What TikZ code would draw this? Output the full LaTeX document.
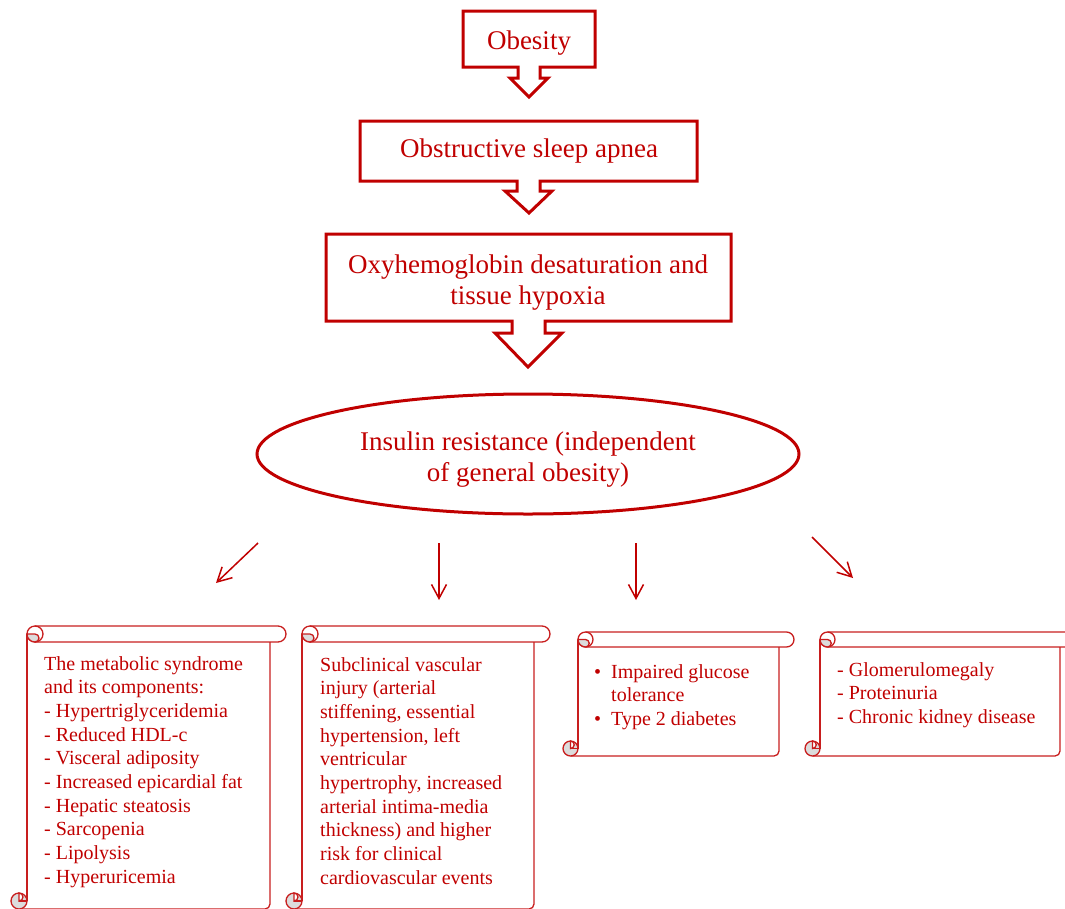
\documentclass[tikz,border=0pt]{standalone}
\usepackage{fontspec}
\setmainfont{Liberation Serif}
\usetikzlibrary{arrows.meta}
\definecolor{dred}{HTML}{C00000}
\definecolor{sred}{HTML}{C81E1E}
\definecolor{curlgray}{HTML}{DCDCDC}
\newcommand{\myscroll}[5]{% Lb Rb T B h
\pgfmathsetmacro{\hh}{#5/2}
\pgfmathsetmacro{\hq}{#5/4}
\draw[scrollline] (#1,#3+\hh) -- (#1,#4-\hh);
\draw[scrollline] (#2,#3+#5) -- (#2,#4-5) arc[start angle=0,end angle=90,radius=5] -- (#1-\hh,#4);
\draw[scrollline] (#1+\hh,#3) -- (#2+\hh,#3) arc[start angle=-90,end angle=90,radius=\hh] -- (#1+\hh,#3+#5);
\draw[scrollline] (#1+\hh,#3+\hh) circle[radius=\hh];
\draw[scrollline,fill=curlgray] (#1,#3+\hh) -- (#1+\hh,#3+\hh) arc[start angle=-90,end angle=90,radius=\hq] arc[start angle=90,end angle=180,radius=\hh] -- cycle;
\draw[scrollline,fill=curlgray] (#1-\hh,#4-\hh) circle[radius=\hh];
\draw[scrollline,fill=white] (#1-\hh,#4-\hh) arc[start angle=90,end angle=-90,radius=\hq] -- cycle;
\draw[scrollline] (#1-\hh,#4-\hh) -- (#1,#4-\hh);
}
\tikzset{
  boxline/.style={draw=dred,line width=3pt,line join=miter},
  scrollline/.style={draw=sred,line width=1.3pt},
  boxtext/.style={text=dred,font=\fontsize{27}{31}\selectfont,align=center,inner sep=0pt},
  scrolltext/.style={text=dred,font=\fontsize{20}{23.7}\selectfont,align=left,inner sep=0pt,anchor=north west},
  thinarrow/.style={draw=dred,line width=1.5pt,-{Straight Barb[length=14pt,width=15pt,line width=1.5pt]}},
}
\begin{document}
\begin{tikzpicture}[x=1pt,y=-1pt]
\useasboundingbox (0,0) rectangle (1065,908);
\clip (0,0) rectangle (1065,908);
% callout boxes
\draw[boxline] (463,11) -- (595,11) -- (595,67) -- (540,67) -- (540,78) -- (548,78) -- (529,97) -- (510,78) -- (518,78) -- (518,67) -- (463,67) -- cycle;
\node[boxtext] (obesity) at (529,43) {Obesity};
\draw[boxline] (360,121) -- (697,121) -- (697,181) -- (540,181) -- (540,191) -- (552,191) -- (529,213) -- (505,191) -- (517,191) -- (517,181) -- (360,181) -- cycle;
\node[boxtext] (osa) at (529,151) {Obstructive sleep apnea};
\draw[boxline] (326,234) -- (731,234) -- (731,321) -- (545,321) -- (545,333) -- (562,333) -- (528,367) -- (495,333) -- (512,333) -- (512,321) -- (326,321) -- cycle;
\node[boxtext] (oxy) at (528,283) {Oxyhemoglobin desaturation and\\tissue hypoxia};
% ellipse
\draw[boxline] (528,454) ellipse[x radius=271,y radius=60];
\node[boxtext] (ir) at (528,460) {Insulin resistance (independent\\of general obesity)};
% thin arrows
\coordinate (a1s) at (258,543); \coordinate (a1e) at (216,583);
\coordinate (a2s) at (439,543); \coordinate (a2e) at (439,600);
\coordinate (a3s) at (636,543); \coordinate (a3e) at (636,600);
\coordinate (a4s) at (812,537); \coordinate (a4e) at (853,578);
\draw[thinarrow] (a1s) -- (a1e);
\draw[thinarrow] (a2s) -- (a2e);
\draw[thinarrow] (a3s) -- (a3e);
\draw[thinarrow] (a4s) -- (a4e);
% scrolls
\myscroll{27}{270}{626}{909}{16}
\myscroll{302}{534}{626}{909}{16}
\myscroll{578}{779}{632}{756}{15}
\myscroll{820}{1060}{632}{756}{15}
\node[scrolltext] (s1) at (44,656) {The metabolic syndrome\\and its components:\\- Hypertriglyceridemia\\- Reduced HDL-c\\- Visceral adiposity\\- Increased epicardial fat\\- Hepatic steatosis\\- Sarcopenia\\- Lipolysis\\- Hyperuricemia};
\node[scrolltext] (s2) at (320,657) {Subclinical vascular\\injury (arterial\\stiffening, essential\\hypertension, left\\ventricular\\hypertrophy, increased\\arterial intima-media\\thickness) and higher\\risk for clinical\\cardiovascular events};
\node[scrolltext] (s3) at (594,664) {\makebox[17pt][l]{\textbullet}Impaired glucose\\\makebox[17pt][l]{}tolerance\\\makebox[17pt][l]{\textbullet}Type 2 diabetes};
\node[scrolltext] (s4) at (837,662) {- Glomerulomegaly\\- Proteinuria\\- Chronic kidney disease};
\end{tikzpicture}
\end{document}
